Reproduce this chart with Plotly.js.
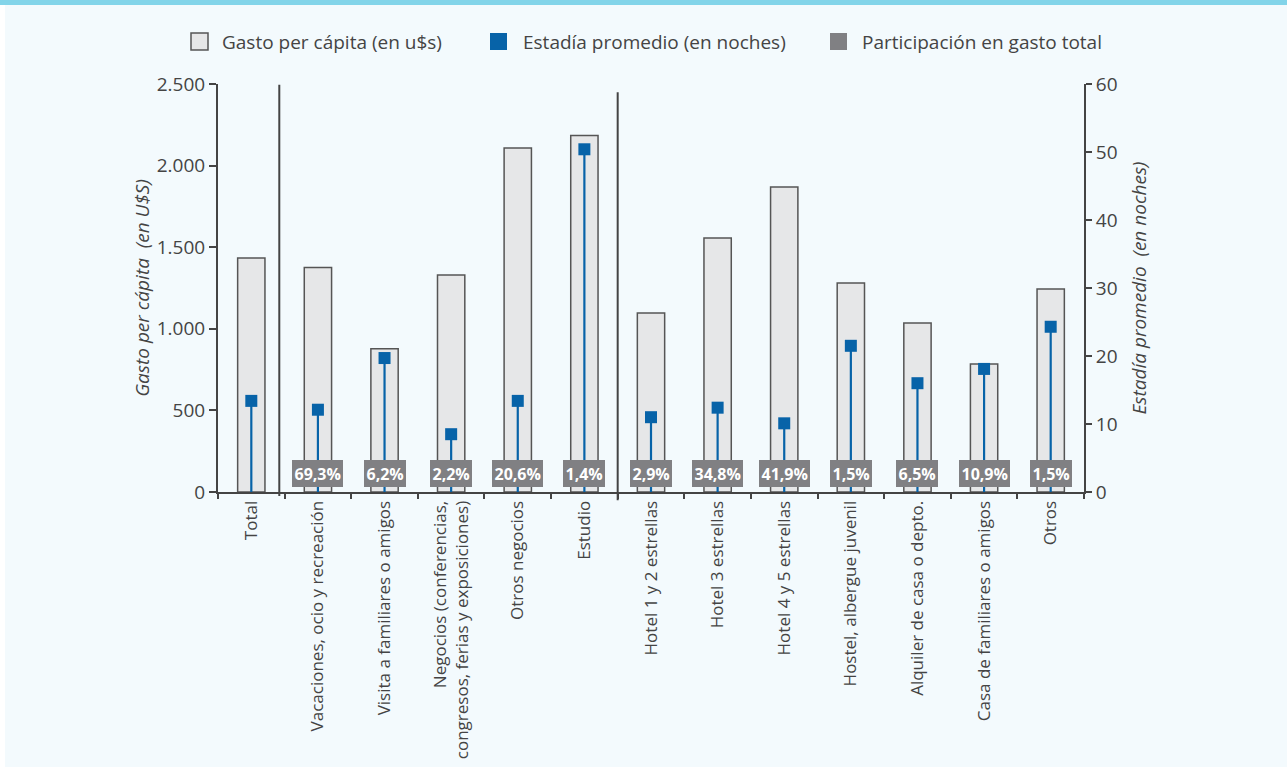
<!DOCTYPE html>
<html>
<head>
<meta charset="utf-8">
<script src="https://cdn.plot.ly/plotly-3.0.1.min.js"></script>
<style>
  html, body { margin: 0; padding: 0; background: #ffffff; }
  #wrap { position: relative; width: 1287px; height: 767px; overflow: hidden; }
  #chart { position: absolute; left: 0; top: 0; width: 1287px; height: 767px; }
  #strip { position: absolute; left: 0; top: 0; width: 1287px; height: 5px; background: #82d4e9; }
  #lstrip { position: absolute; left: 0; top: 5px; width: 5px; height: 762px; background: #ffffff; }
</style>
</head>
<body>
<div id="wrap">
  <div id="chart"></div>
  <div id="strip"></div>
  <div id="lstrip"></div>
</div>
<script>
const categories = [
  "Total",
  "Vacaciones, ocio y recreación",
  "Visita a familiares o amigos",
  "Negocios (conferencias,<br>congresos, ferias y exposiciones)",
  "Otros negocios",
  "Estudio",
  "Hotel 1 y 2 estrellas",
  "Hotel 3 estrellas",
  "Hotel 4 y 5 estrellas",
  "Hostel, albergue juvenil",
  "Alquiler de casa o depto.",
  "Casa de familiares o amigos",
  "Otros"
];
const gastoPerCapita = [1434, 1375, 877, 1330, 2108, 2185, 1097, 1556, 1869, 1281, 1036, 784, 1244];
const estadiaPromedio = [13.4, 12.1, 19.7, 8.5, 13.4, 50.4, 11.0, 12.4, 10.1, 21.5, 16.0, 18.1, 24.3];
const participacion = [null, "69,3%", "6,2%", "2,2%", "20,6%", "1,4%", "2,9%", "34,8%", "41,9%", "1,5%", "6,5%", "10,9%", "1,5%"];
const leftTicks = [0, 500, 1000, 1500, 2000, 2500];
const rightTicks = [0, 10, 20, 30, 40, 50, 60];
const legendNames = ["Gasto per cápita (en u$s)", "Estadía promedio (en noches)", "Participación en gasto total"];

const BLUE = "#0763a8";
const GRAY = "#808083";
const BARFILL = "#e6e7e8";
const TXT = "#444444";
const FONT = "Open Sans, Noto Sans, sans-serif";

// plot-area geometry (pixels) used for placing the manual legend
const W = 1287, H = 767, ML = 218, MR = 203, MT = 84, MB = 275;
const PW = W - ML - MR, PH = H - MT - MB;
const px = (x) => (x - ML) / PW;
const py = (y) => (H - MB - y) / PH;

const traces = [
  {
    type: "bar", x: categories, y: gastoPerCapita, name: legendNames[0],
    width: 0.41, showlegend: false,
    marker: { color: BARFILL, line: { color: "#555555", width: 1.5 } },
    hoverinfo: "skip"
  },
  {
    type: "scatter", mode: "markers", x: categories, y: estadiaPromedio,
    name: legendNames[1], yaxis: "y2", showlegend: false,
    marker: { symbol: "square", size: 12, color: BLUE },
    error_y: {
      type: "data", symmetric: false,
      array: estadiaPromedio.map(() => 0),
      arrayminus: estadiaPromedio,
      color: BLUE, thickness: 2.2, width: 0
    }
  }
];

const annotations = [];
categories.forEach((c, i) => {
  if (participacion[i]) {
    annotations.push({
      x: c, y: 112, xref: "x", yref: "y",
      text: "<b>" + participacion[i] + "</b>",
      showarrow: false,
      font: { family: FONT, size: 16, color: "#ffffff" },
      bgcolor: GRAY, borderpad: 2.5, borderwidth: 0
    });
  }
});

// manual legend
const legendItems = [
  { sx: 191, tx: 220, fill: BARFILL, line: "#555555", lw: 1.5 },
  { sx: 490, tx: 521, fill: BLUE, line: BLUE, lw: 0 },
  { sx: 830, tx: 860, fill: GRAY, line: GRAY, lw: 0 }
];
const shapes = [
  { type: "line", xref: "x", yref: "paper", x0: 0.42, x1: 0.42, y0: -0.01, y1: 0.998,
    line: { color: "#444444", width: 2 } },
  { type: "line", xref: "x", yref: "paper", x0: 5.5, x1: 5.5, y0: -0.02, y1: 0.98,
    line: { color: "#444444", width: 2 } }
];
legendItems.forEach((it, i) => {
  shapes.push({
    type: "rect", xref: "paper", yref: "paper",
    x0: px(it.sx), x1: px(it.sx + 17), y0: py(50), y1: py(33),
    fillcolor: it.fill, line: { color: it.line, width: it.lw }
  });
  annotations.push({
    xref: "paper", yref: "paper", x: px(it.tx), y: py(42),
    xanchor: "left", yanchor: "middle", showarrow: false,
    text: legendNames[i],
    font: { family: FONT, size: 19, color: TXT }
  });
});

const layout = {
  width: W, height: H,
  paper_bgcolor: "#f3fafd", plot_bgcolor: "#f3fafd",
  margin: { l: ML, r: MR, t: MT, b: MB, pad: 0 },
  separators: ",.",
  barmode: "overlay",
  showlegend: false,
  font: { family: FONT, color: TXT },
  xaxis: {
    type: "category", range: [-0.5, 12.5],
    tickangle: -90, tickfont: { family: FONT, size: 17, color: TXT },
    showline: true, linecolor: "#444444", linewidth: 2,
    ticks: "outside", tickson: "boundaries", ticklen: 5, tickcolor: "#444444", tickwidth: 2,
    showgrid: false, zeroline: false, fixedrange: true
  },
  yaxis: {
    range: [0, 2500], tickvals: leftTicks, tickformat: ",d",
    tickfont: { family: FONT, size: 19, color: TXT },
    showline: true, linecolor: "#444444", linewidth: 2,
    ticks: "outside", ticklen: 7, tickcolor: "#444444", tickwidth: 2,
    showgrid: false, zeroline: false,
    title: { text: "<i>Gasto per cápita  (en U$S)</i>", font: { family: FONT, size: 19, color: TXT }, standoff: 2 }
  },
  yaxis2: {
    overlaying: "y", side: "right", range: [0, 60], tickvals: rightTicks,
    tickfont: { family: FONT, size: 19, color: TXT },
    showline: true, linecolor: "#444444", linewidth: 2,
    ticks: "outside", ticklen: 6, tickcolor: "#444444", tickwidth: 2,
    showgrid: false, zeroline: false,
    title: { text: "<i>Estadía promedio  (en noches)</i>", font: { family: FONT, size: 19, color: TXT }, standoff: 16 }
  },
  annotations: annotations,
  shapes: shapes
};

Plotly.newPlot("chart", traces, layout, { displayModeBar: false, staticPlot: true });
</script>
</body>
</html>
